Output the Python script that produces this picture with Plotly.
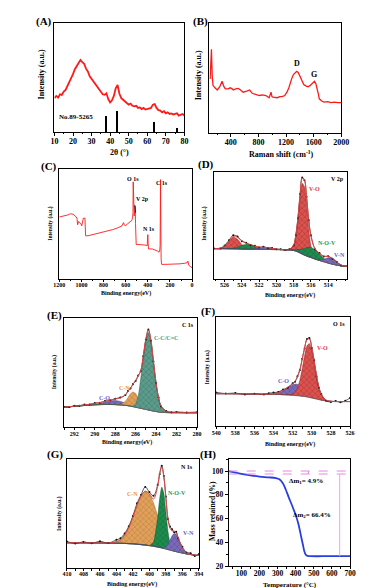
import plotly.graph_objects as go

SERIF = "Liberation Serif"
W, H = 376, 588

# ---------------- data ----------------
# (A) XRD
A_x = [10, 11, 12, 13, 14, 15, 16, 17, 18, 19, 20, 21, 22, 23, 24, 25, 26, 27, 28, 29,
       30, 31, 32, 33, 34, 35, 36, 37, 38, 39, 40, 41, 42, 43, 44, 45, 46, 47, 48, 49,
       50, 51, 52, 53, 54, 55, 56, 57, 58, 59, 60, 61, 62, 63, 64, 65, 66, 67, 68, 69,
       70, 71, 72, 73, 74, 75, 76, 77, 78, 79, 80]
A_y = [31, 33, 31.5, 34.5, 34, 37, 38.5, 42, 45, 49.5, 53, 57.5, 60, 63.5, 66, 64, 62.5, 58, 55.5, 51,
       48.5, 46, 43.5, 41, 39.5, 37, 34.5, 34, 35.5, 30, 27, 29, 33, 40, 43, 35, 31, 29.5, 28, 27,
       25, 26, 24, 23.5, 24, 22, 22.5, 21, 22, 20.5, 21, 21.5, 22, 25, 25.5, 22, 20, 19.5, 18, 19,
       17, 18, 16.5, 17, 16, 16.5, 17, 15, 16, 16.5, 15]
A_ref_pos = [38.0, 44.0, 63.7, 76.3]
A_ref_h = [15, 19, 9, 4]
A_xticks = [10, 20, 30, 40, 50, 60, 70, 80]

# (B) Raman
B_x = [100, 119, 130, 142, 170, 203, 240, 273, 300, 320, 360, 390, 420, 437, 470, 508, 540, 578, 630, 672,
       710, 742, 780, 813, 860, 907, 940, 954, 982, 995, 1010, 1040, 1071, 1110, 1141, 1180, 1212, 1240, 1259, 1285,
       1306, 1330, 1353, 1375, 1400, 1430, 1456, 1490, 1517, 1545, 1574, 1595, 1611, 1630, 1648, 1665, 1681, 1715, 1751, 1800,
       1850, 1900, 1950, 2000]
B_y = [49, 76, 52, 43, 41, 39, 42, 47, 42, 40, 40, 41, 40, 39, 40, 40.5, 39, 37, 38, 39,
       36, 35, 34.5, 34, 34.5, 34, 33, 32, 37, 33, 32.5, 32, 32, 33, 33, 34, 37, 41, 46, 50,
       53, 55, 56, 55, 52, 47, 44, 42.5, 42, 43, 45, 46.5, 47, 45, 41.5, 36, 31, 29, 28, 28.5,
       27.5, 28, 27.5, 27.5]
B_xticks = [400, 800, 1200, 1600, 2000]

# (C) XPS survey
C_x = [1200, 1170, 1142, 1120, 1098, 1075, 1055, 1040, 1034, 1025, 1017, 1005, 997, 985, 982, 968, 965, 962, 940, 900,
       851, 800, 764, 720, 677, 650, 633, 625, 619, 612, 604, 580, 560, 545, 538, 534, 532, 528, 523, 518,
       514, 511, 508, 505, 480, 444, 420, 406, 402, 400, 397, 394, 360, 328, 310, 299, 292, 289, 285, 283,
       280, 276, 240, 200, 154, 110, 67, 45, 38, 33, 29, 15, 0]
C_y = [56, 56.5, 57, 58, 59, 58.5, 57, 55, 49, 52, 51, 50, 48, 52, 55, 55, 47, 39, 39, 40,
       41, 42, 43, 44.5, 46, 47, 48, 50, 51, 49, 48, 50, 52, 53, 55, 60, 88, 60, 57, 62,
       66, 50, 41, 31, 31, 31, 30.5, 30, 35, 40, 32, 27, 27, 26, 25, 24, 26, 30, 90, 55,
       18, 13, 13, 13, 13, 13.5, 14, 14.5, 16, 13, 12, 11, 10]
C_xticks = [1200, 1000, 800, 600, 400, 200, 0]
C_arrow = [(511, 60), (518, 67)]     # tail, head of the V 2p pointer

# (D) V 2p
D_x = [527.2, 526.5, 526.0, 525.5, 525.0, 524.5, 524.0, 523.5, 523.0, 522.5, 522.0, 521.5, 521.0, 520.5, 520.0,
       519.5, 519.0, 518.5, 518.0, 517.75, 517.5, 517.25, 517.0, 516.75, 516.5, 516.25, 516.0, 515.5, 515.0, 514.5,
       514.0, 513.5, 513.0, 512.5, 511.8]
D_base = [28.0, 28.0, 28.0, 27.9, 27.8, 27.7, 27.6, 27.5, 27.5, 27.4, 27.4, 27.3, 27.3, 27.2, 27.2,
          27.1, 27.0, 26.8, 26.3, 25.8, 25.0, 24.0, 23.0, 22.0, 21.2, 20.4, 19.8, 18.2, 17.0, 15.8,
          14.6, 13.5, 12.7, 12.0, 11.4]
D_VO = [28.0, 28.5, 30.6, 35.1, 38.7, 36.8, 31.8, 28.6, 27.65, 27.4, 27.4, 27.3, 27.3, 27.2, 27.2,
        27.1, 27.0, 27.0, 30.7, 39.0, 54.9, 75.2, 89.0, 86.1, 68.2, 46.3, 30.6, 19.0, 17.0, 15.8,
        14.6, 13.5, 12.7, 12.0, 11.4]
D_NOV = [28.0, 28.0, 28.0, 28.0, 28.4, 29.5, 31.1, 32.1, 31.6, 29.8, 28.4, 27.6, 27.35, 27.2, 27.2,
         27.1, 27.0, 27.0, 27.0, 27.1, 27.2, 27.3, 27.7, 28.3, 28.9, 29.3, 29.3, 26.9, 23.0, 18.9,
         15.8, 13.8, 12.8, 12.0, 11.4]
D_VN = [28.0, 28.0, 28.0, 27.9, 27.8, 27.7, 27.6, 27.5, 27.7, 28.0, 28.6, 29.0, 29.0, 28.3, 27.7,
        27.2, 27.0, 26.8, 26.3, 25.8, 25.0, 24.0, 23.0, 22.0, 21.2, 20.4, 19.8, 18.3, 17.5, 18.1,
        19.5, 18.7, 15.5, 12.7, 11.4]
D_env = [28.0, 28.5, 30.65, 35.25, 39.3, 38.6, 35.3, 33.1, 31.9, 30.4, 29.6, 29.3, 29.0, 28.3, 27.7,
         27.2, 27.0, 27.2, 31.4, 40.3, 57.1, 78.5, 93.7, 92.4, 75.9, 55.2, 40.1, 27.7, 23.5, 21.1,
         20.6, 19.0, 15.6, 12.7, 11.4]
D_data = [28.3, 28.2, 31.0, 35.8, 40.5, 39.4, 35.0, 33.6, 31.5, 30.8, 29.2, 29.8, 28.7, 28.6, 27.4,
          27.5, 26.8, 27.5, 31.0, 40.8, 56.5, 79.0, 94.5, 92.0, 76.5, 54.6, 40.6, 27.3, 23.9, 20.7,
          21.0, 18.6, 15.9, 12.4, 11.6]
D_xticks = [526, 524, 522, 520, 518, 516, 514]

# (E) C 1s
E_x = [293, 292.5, 292, 291.5, 291, 290.5, 290, 289.5, 289, 288.5, 288, 287.5, 287, 286.75, 286.5, 286.25,
       286, 285.75, 285.5, 285.25, 285, 284.75, 284.5, 284.25, 284, 283.75, 283.5, 283, 282.5, 282, 281, 280]
E_base = [18.5, 18.9, 19.3, 19.7, 20.1, 20.4, 20.7, 20.9, 21.0, 21.0, 20.9, 20.6, 20.2, 19.9, 19.5, 19.0,
          18.5, 18.0, 17.5, 17.0, 16.5, 16.0, 15.5, 15.0, 14.6, 14.2, 13.9, 13.6, 13.5, 13.5, 13.4, 13.4]
E_CC = [18.5, 18.9, 19.3, 19.7, 20.1, 20.4, 20.7, 20.9, 21.0, 21.0, 20.9, 20.6, 20.2, 19.9, 19.5, 19.5,
        21.5, 28.0, 44.5, 63.0, 79.5, 87.0, 77.5, 58.0, 39.6, 26.2, 18.9, 14.4, 13.5, 13.5, 13.4, 13.4]
E_CN = [18.5, 18.9, 19.3, 19.7, 20.1, 20.4, 20.7, 20.9, 21.0, 21.0, 20.9, 21.1, 24.0, 27.3, 30.8, 32.4,
        31.0, 27.0, 22.6, 19.2, 17.3, 16.2, 15.5, 15.0, 14.6, 14.2, 13.9, 13.6, 13.5, 13.5, 13.4, 13.4]
E_CO = [18.5, 18.9, 19.3, 19.7, 20.15, 20.5, 21.0, 21.85, 23.05, 24.26, 24.7, 23.86, 22.25, 21.35, 20.45, 19.57,
        18.82, 18.17, 17.58, 17.0, 16.5, 16.0, 15.5, 15.0, 14.6, 14.2, 13.9, 13.6, 13.5, 13.5, 13.4, 13.4]
E_env = [18.5, 19.0, 19.5, 20.0, 20.6, 21.2, 22.0, 22.8, 23.8, 25.0, 26.0, 27.0, 30.0, 33.0, 36.0, 39.5,
         43.0, 47.0, 52.0, 65.0, 81.0, 89.0, 80.0, 60.0, 41.0, 27.0, 19.5, 14.8, 14.0, 13.9, 13.8, 13.8]
E_data = [18.8, 18.7, 19.8, 19.9, 20.9, 21.0, 22.3, 22.6, 24.1, 24.8, 26.3, 27.4, 29.6, 33.4, 35.7, 39.9,
          42.6, 47.5, 51.6, 65.5, 80.4, 89.8, 79.5, 60.5, 40.6, 27.4, 19.2, 15.1, 13.8, 14.1, 13.6, 14.0]
E_xticks = [292, 290, 288, 286, 284, 282, 280]

# (F) O 1s
F_x = [540, 539, 538, 537, 536, 535, 534.5, 534, 533.5, 533, 532.5, 532, 531.75, 531.5, 531.25,
       531, 530.75, 530.5, 530.25, 530, 529.75, 529.5, 529.25, 529, 528.5, 528, 527.5, 527, 526.5, 526]
F_base = [30.0, 30.0, 29.9, 29.8, 29.7, 29.6, 29.5, 29.4, 29.3, 29.1, 28.9, 28.6, 28.4, 28.2, 28.0,
          27.7, 27.4, 27.1, 26.6, 26.1, 25.6, 25.1, 24.6, 24.1, 23.4, 23.0, 22.8, 22.8, 22.8, 22.8]
F_CO = [30.0, 30.0, 29.9, 29.8, 29.7, 29.6, 29.65, 30.0, 31.0, 33.0, 35.9, 38.25, 38.7, 38.6, 37.8,
        36.4, 34.7, 32.8, 30.8, 29.0, 27.5, 26.3, 25.3, 24.45, 23.5, 23.0, 22.8, 22.8, 22.8, 22.8]
F_VO = [30.0, 30.0, 29.9, 29.8, 29.7, 29.6, 29.5, 29.4, 29.3, 29.1, 29.0, 29.5, 31.1, 34.9, 42.2,
        52.8, 64.8, 73.9, 75.9, 69.8, 58.1, 45.5, 35.3, 28.8, 23.95, 23.0, 22.8, 22.8, 22.8, 22.8]
F_env = [30.0, 30.0, 29.9, 29.8, 29.7, 29.6, 29.65, 30.0, 31.0, 33.0, 36.0, 39.1, 41.4, 45.3, 52.0,
         61.5, 72.1, 79.6, 80.1, 72.7, 60.0, 46.7, 36.0, 29.2, 24.05, 23.0, 22.8, 22.8, 22.8, 22.8]
F_data = [31.2, 30.1, 30.6, 29.3, 29.9, 29.2, 30.4, 31.0, 31.6, 33.8, 35.5, 39.6, 41.0, 45.9, 51.6,
          62.0, 71.5, 80.2, 81.0, 72.0, 60.6, 46.1, 35.4, 29.8, 23.6, 22.4, 23.3, 22.1, 23.5, 26.0]
F_xticks = [540, 538, 536, 534, 532, 530, 528, 526]

# (G) N 1s
G_x = [410, 409, 408, 407, 406, 405, 404, 403.5, 403, 402.5, 402, 401.5, 401, 400.5, 400, 399.5,
       399, 398.75, 398.5, 398.25, 398, 397.75, 397.5, 397.25, 397, 396.75, 396.5, 396, 395.5, 395, 394.5, 394]
G_base = [23.3, 23.3, 23.2, 23.2, 23.1, 23.0, 22.9, 22.8, 22.7, 22.5, 22.3, 22.0, 21.6, 21.2, 20.7, 20.1,
          19.4, 19.0, 18.6, 18.1, 17.6, 17.1, 16.6, 16.1, 15.6, 15.2, 14.7, 13.9, 13.1, 12.5, 12.0, 11.6]
G_CN = [23.3, 23.3, 23.2, 23.2, 23.1, 23.15, 24.3, 26.3, 30.4, 37.3, 46.8, 57.5, 66.4, 70.6, 68.1, 59.7,
        48.3, 42.5, 37.0, 32.0, 27.8, 24.3, 21.5, 19.35, 17.7, 16.5, 15.5, 14.15, 13.1, 12.5, 12.0, 11.6]
G_NOV = [23.3, 23.3, 23.2, 23.2, 23.1, 23.0, 22.9, 22.8, 22.7, 22.5, 22.3, 22.0, 21.6, 21.2, 20.85, 23.8,
         45.9, 63.8, 74.3, 68.8, 51.6, 33.8, 22.6, 17.7, 15.9, 15.2, 14.7, 13.9, 13.1, 12.5, 12.0, 11.6]
G_VN = [23.3, 23.3, 23.2, 23.2, 23.1, 23.0, 22.9, 22.8, 22.7, 22.5, 22.3, 22.0, 21.6, 21.2, 20.7, 20.1,
        19.4, 19.0, 18.85, 18.9, 19.8, 22.1, 25.65, 29.5, 31.7, 31.0, 27.3, 18.2, 13.75, 12.55, 12.0, 11.6]
G_env = [23.3, 23.3, 23.2, 23.2, 23.1, 23.15, 24.3, 26.3, 30.4, 37.3, 46.8, 57.5, 66.4, 70.6, 68.25, 63.4,
         74.8, 87.3, 92.9, 83.5, 64.0, 46.0, 36.55, 34.35, 34.1, 32.3, 28.1, 18.45, 13.75, 12.55, 12.0, 11.6]
G_data = [24.5, 22.6, 24.1, 22.8, 24.6, 23.0, 26.0, 27.5, 31.8, 38.4, 47.9, 59.5, 67.4, 74.5, 69.8, 66.5,
          76.2, 86.1, 94.0, 84.6, 65.7, 45.1, 38.2, 35.6, 32.9, 33.4, 27.2, 19.6, 14.5, 13.8, 11.2, 13.0]
G_xticks = [410, 408, 406, 404, 402, 400, 398, 396, 394]

# (H) TGA
H_T = [30, 50, 100, 150, 200, 250, 290, 310, 330, 345, 360, 380, 400, 415, 430, 440, 450, 460, 480, 550, 700]
H_M = [100, 99.2, 97.6, 96.3, 95.3, 94.7, 94.1, 93.0, 89.5, 84.5, 78.5, 71.0, 63.0, 55.5, 45.0, 38.0, 31.5,
       29.0, 28.5, 28.4, 28.4]
H_levels = [100, 97.5]          # dashed guide levels
H_guide_T = 643                 # vertical guide position
H_step_T = 470                  # small step marker position
H_xticks = [100, 200, 300, 400, 500, 600, 700]
H_yticks = [20, 40, 60, 80, 100]

# ---------------- figure ----------------
fig = go.Figure()

BOX = {1: (42, 177, 15, 125), 2: (203, 340, 15, 126), 3: (47, 185, 162, 273), 4: (208, 346, 165, 273),
       5: (52, 190, 313, 423), 6: (210, 349, 312, 422), 7: (55, 192, 455, 565), 8: (223, 349, 455, 563)}


def ax(i):
    return ('x' if i == 1 else f'x{i}', 'y' if i == 1 else f'y{i}')


def line(i, x, y, color, width, shape='linear', mode='lines', msize=0):
    xa, ya = ax(i)
    fig.add_trace(go.Scatter(x=x, y=y, xaxis=xa, yaxis=ya, mode=mode,
                             line=dict(color=color, width=width, shape=shape),
                             marker=dict(size=msize, color=color),
                             hoverinfo='skip', showlegend=False))


def comp(i, x, base, y, color, dark):
    xa, ya = ax(i)
    fig.add_trace(go.Scatter(x=x, y=base, xaxis=xa, yaxis=ya, mode='lines',
                             line=dict(color='#555555', width=0.6, shape='spline', smoothing=0.5),
                             hoverinfo='skip', showlegend=False))
    fig.add_trace(go.Scatter(x=x, y=y, xaxis=xa, yaxis=ya, mode='lines',
                             line=dict(color=dark, width=0.5, shape='spline', smoothing=0.5),
                             fill='tonexty', fillcolor=color,
                             fillpattern=dict(shape='x', size=4, solidity=0.3, fgcolor=dark, bgcolor=color),
                             hoverinfo='skip', showlegend=False))


def ann(text, x, y, ref=None, size=7, color='black', angle=0, xanchor='center'):
    if ref is None:
        xr, yr = 'paper', 'paper'
        x, y = x / W, 1 - y / H
    else:
        xr, yr = ax(ref)
    fig.add_annotation(text=text, x=x, y=y, xref=xr, yref=yr, showarrow=False,
                       font=dict(family=SERIF, size=size, color=color, weight='bold'),
                       textangle=angle, xanchor=xanchor, yanchor='middle')


RED = '#ff1a1a'
# A
fig.add_trace(go.Bar(x=A_ref_pos, y=A_ref_h, width=0.35, marker=dict(color='black', line=dict(width=0)),
                     xaxis='x', yaxis='y', hoverinfo='skip', showlegend=False))
line(1, A_x, A_y, RED, 1.8)
# B
line(2, B_x, B_y, RED, 1.3)
# C
line(3, C_x, C_y, RED, 0.9)
fig.add_shape(type='line', xref='x3', yref='y3', x0=C_arrow[0][0], y0=C_arrow[0][1],
              x1=C_arrow[1][0], y1=C_arrow[1][1], line=dict(color='black', width=0.8))
# D
comp(4, D_x, D_base, D_VO, '#d9534f', '#9c1f1f')
comp(4, D_x, D_base, D_NOV, '#1e8c4e', '#0b5a2c')
comp(4, D_x, D_base, D_VN, '#7a6bb8', '#463a86')
line(4, D_x, D_data, '#111111', 0.7, shape='spline', mode='lines+markers', msize=2)
line(4, D_x, D_env, '#e04848', 1.0, shape='spline')
# E
comp(5, E_x, E_base, E_CO, '#7a6bb8', '#463a86')
comp(5, E_x, E_base, E_CN, '#e0a15c', '#a8682a')
comp(5, E_x, E_base, E_CC, '#5d9c8c', '#2c6456')
line(5, E_x, E_data, '#111111', 0.7, shape='spline', mode='lines+markers', msize=2)
line(5, E_x, E_env, '#e04848', 1.0, shape='spline')
# F
comp(6, F_x, F_base, F_CO, '#7a6bb8', '#463a86')
comp(6, F_x, F_base, F_VO, '#d9534f', '#9c1f1f')
line(6, F_x, F_data, '#111111', 0.7, shape='spline', mode='lines+markers', msize=2)
line(6, F_x, F_env, '#e04848', 1.0, shape='spline')
# G
comp(7, G_x, G_base, G_CN, '#e0a15c', '#a8682a')
comp(7, G_x, G_base, G_NOV, '#1e8c4e', '#0b5a2c')
comp(7, G_x, G_base, G_VN, '#7a6bb8', '#463a86')
line(7, G_x, G_data, '#111111', 0.7, shape='spline', mode='lines+markers', msize=2)
line(7, G_x, G_env, '#e04848', 1.0, shape='spline')
# H
for lv in H_levels:
    fig.add_shape(type='line', xref='x8', yref='y8', x0=H_T[0], x1=H_T[-1], y0=lv, y1=lv,
                  line=dict(color='#e58ae5', width=1, dash='dash'))
fig.add_shape(type='line', xref='x8', yref='y8', x0=H_guide_T, x1=H_guide_T, y0=H_levels[1], y1=H_M[-1],
              line=dict(color='#e8a6e8', width=1))
fig.add_shape(type='line', xref='x8', yref='y8', x0=H_step_T, x1=H_step_T, y0=H_levels[0], y1=H_levels[1],
              line=dict(color='#e58ae5', width=1))
line(8, H_T, H_M, '#2b3fe0', 1.8, shape='spline')

# ---------------- axes ----------------
XT = {1: (A_xticks, [10, 80], 8, 5), 2: (B_xticks, [90, 2000], 8, 200), 3: (C_xticks, [1200, 0], 6, 100),
      4: (D_xticks, [527.2, 511.8], 6, 1), 5: (E_xticks, [293, 280], 6, 1), 6: (F_xticks, [540, 526], 6, 1),
      7: (G_xticks, [410, 394], 6, 1), 8: (H_xticks, [30, 700], 7.5, 50)}

layout = dict(width=W, height=H, margin=dict(l=0, r=0, t=0, b=0), paper_bgcolor='white',
              plot_bgcolor='white', showlegend=False, bargap=0)
for i in range(1, 9):
    x0, x1, yt, yb = BOX[i]
    ticks, rng, fs, mdt = XT[i]
    lw = 1.1 if i in (1, 2, 8) else 0.9
    tl = 2 if i in (3, 4, 5, 6, 7, 8) else 3
    xs = 'xaxis' if i == 1 else f'xaxis{i}'
    ys = 'yaxis' if i == 1 else f'yaxis{i}'
    xa, ya = ax(i)
    layout[xs] = dict(domain=[x0 / W, x1 / W], anchor=ya, range=rng, tickvals=ticks,
                      showline=True, linecolor='black', linewidth=lw, mirror=True, showgrid=False,
                      zeroline=False, ticks='outside', ticklen=tl, tickwidth=0.8, tickcolor='black',
                      ticklabelstandoff=-2,
                      tickfont=dict(family=SERIF, size=fs, color='black', weight='bold'),
                      minor=dict(ticks='outside', ticklen=1.5, dtick=mdt, tickcolor='black', tickwidth=0.6))
    ydict = dict(domain=[1 - yb / H, 1 - yt / H], anchor=xa, showline=True, linecolor='black',
                 linewidth=lw, mirror=True, showgrid=False, zeroline=False)
    if i == 8:
        ydict.update(range=[20, 110], tickvals=H_yticks, ticks='outside', ticklen=3, tickwidth=0.8,
                     tickcolor='black', tickfont=dict(family=SERIF, size=7.5, color='black', weight='bold'),
                     minor=dict(ticks='outside', ticklen=2, dtick=10, tickcolor='black', tickwidth=0.6))
    else:
        ydict.update(range=[0, 100], showticklabels=False, ticks='')
    layout[ys] = ydict
fig.update_layout(**layout)

# ---------------- text ----------------
for lab, x, y in [('(A)', 31, 14), ('(B)', 194, 14), ('(C)', 36, 160), ('(D)', 199, 158),
                  ('(E)', 42, 310), ('(F)', 202, 306), ('(G)', 43, 450), ('(H)', 202, 450)]:
    ann(lab, x, y, size=11)

ann('Intensity (a.u.)', 28, 67, size=8, angle=-90)
ann('2θ (°)', 110, 146, size=8)
ann('Intensity (a.u.)', 192, 68, size=8, angle=-90)
ann('Raman shift (cm<sup>-1</sup>)', 278, 147, size=8)
ann('Intensity (a.u.)', 38, 217, size=5.5, angle=-90)
ann('Binding energy(eV)', 116, 288, size=6)
ann('Intensity (a.u.)', 198, 217, size=5.5, angle=-90)
ann('Binding energy(eV)', 287, 290, size=6)
ann('Intensity (a.u.)', 42, 367, size=5.5, angle=-90)
ann('Binding energy(eV)', 117, 438, size=6)
ann('Intensity (a.u.)', 201, 362, size=5.5, angle=-90)
ann('Binding energy(eV)', 287, 440, size=6)
ann('Intensity (a.u.)', 47, 510, size=5.5, angle=-90)
ann('Binding energy(eV)', 123, 581, size=6)
ann('Mass retained (%)', 206, 507, size=7.5, angle=-90)
ann('Temperature (°C)', 287, 582, size=7)

# A
ann('No.89-5265', 11.5, 14, ref=1, size=7, xanchor='left')
# B
ann('D', 1353, 63, ref=2, size=8)
ann('G', 1611, 53, ref=2, size=8)
# C
ann('O 1s', 537, 91, ref=3, size=6)
ann('V 2p', 452, 72, ref=3, size=6)
ann('N 1s', 392, 45, ref=3, size=6)
ann('C 1s', 268, 87, ref=3, size=6)
# D
ann('V 2p', 512.9, 93, ref=4, size=6)
ann('V-O', 515.6, 84, ref=4, size=6, color='#e03a3a')
ann('N-O-V', 514.1, 33, ref=4, size=6, color='#1a9a50')
ann('V-N', 512.7, 22, ref=4, size=6, color='#6a5acd')
# E
ann('C 1s', 280.9, 94, ref=5, size=6)
ann('C-C/C=C', 283.0, 82, ref=5, size=6, color='#4a9a8a')
ann('C-N', 287.1, 36, ref=5, size=6, color='#e8962e')
ann('C-O', 289.0, 27, ref=5, size=6, color='#6a5acd')
# F
ann('O 1s', 527.1, 94, ref=6, size=6)
ann('V-O', 528.9, 72, ref=6, size=6, color='#e03a3a')
ann('C-O', 533.0, 42, ref=6, size=6, color='#6a5acd')
# G
ann('N 1s', 395.4, 93, ref=7, size=6)
ann('C-N', 402.0, 68, ref=7, size=6, color='#e8962e')
ann('N-O-V', 396.6, 69, ref=7, size=6, color='#1a9a50')
ann('V-N', 395.3, 32, ref=7, size=6, color='#6a5acd')
# H
ann('Δm<sub>1</sub>= 4.9%', 456, 91.5, ref=8, size=7)
ann('Δm<sub>2</sub>= 66.4%', 492, 63, ref=8, size=7)

fig.write_html("out.html")
